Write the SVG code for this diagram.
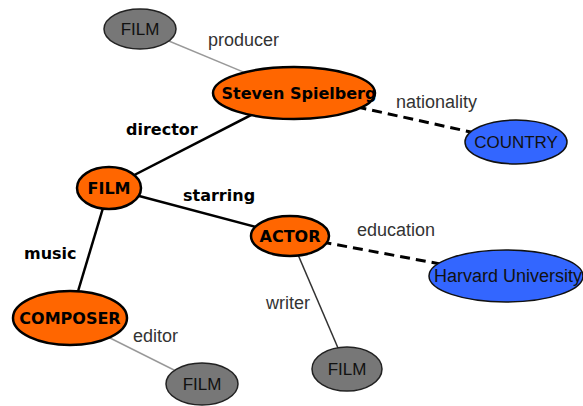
<svg xmlns="http://www.w3.org/2000/svg" width="583" height="406" viewBox="0 0 583 406">
<style>
.thick{stroke:#000;stroke-width:2.5;fill:none}
.dash{stroke:#000;stroke-width:3;stroke-dasharray:10,6;fill:none}
.thin{stroke:#999;stroke-width:1.5;fill:none}
.dark{stroke:#333;stroke-width:1.5;fill:none}
.orange{fill:#ff6600;stroke:#000;stroke-width:2.5}
.blue{fill:#3366ff;stroke:#111;stroke-width:1.5}
.gray{fill:#777;stroke:#222;stroke-width:1.5}
.nb{font-family:"DejaVu Sans",sans-serif;font-weight:bold;font-size:16px;fill:#000;text-anchor:middle}
.nn{font-family:"Liberation Sans",Arial,sans-serif;font-size:17px;fill:#111;text-anchor:middle}
.lb{font-family:"DejaVu Sans",sans-serif;font-weight:bold;font-size:16px;fill:#000}
.ln{font-family:"Liberation Sans",Arial,sans-serif;font-size:18px;fill:#333}
</style>
<g id="connectors">
<line class="thin" x1="140" y1="29" x2="294" y2="93"/>
<line class="dash" x1="294" y1="93" x2="516" y2="142"/>
<line class="thick" x1="109" y1="188" x2="294" y2="93"/>
<line class="thick" x1="109" y1="188" x2="290" y2="236"/>
<line class="thick" x1="109" y1="188" x2="70" y2="318"/>
<line class="dash" x1="290" y1="236" x2="505" y2="276"/>
<line class="dark" x1="290" y1="236" x2="347" y2="369"/>
<line class="thin" x1="70" y1="318" x2="202" y2="384"/>
<text class="ln" x="208" y="46">producer</text>
<text class="ln" x="396" y="108">nationality</text>
<text class="lb" x="126" y="135">director</text>
<text class="lb" x="183" y="201">starring</text>
<text class="ln" x="357" y="236">education</text>
<text class="lb" x="24" y="259">music</text>
<text class="ln" x="266" y="309">writer</text>
<text class="ln" x="133" y="342">editor</text>
</g>
<g id="film-top"><ellipse class="gray" cx="140" cy="29" rx="36" ry="20"/><text class="nn" x="140" y="35">FILM</text></g>
<g id="spielberg"><ellipse class="orange" cx="294" cy="93" rx="81" ry="26"/><text class="nb" x="299" y="99" textLength="155" lengthAdjust="spacingAndGlyphs">Steven Spielberg</text></g>
<g id="country"><ellipse class="blue" cx="516" cy="142" rx="51" ry="22"/><text class="nn" x="516" y="148">COUNTRY</text></g>
<g id="film-mid"><ellipse class="orange" cx="109" cy="188" rx="32" ry="21"/><text class="nb" x="109" y="194">FILM</text></g>
<g id="actor"><ellipse class="orange" cx="290" cy="236" rx="39" ry="20"/><text class="nb" x="290" y="242">ACTOR</text></g>
<g id="harvard"><ellipse class="blue" cx="506" cy="276" rx="77" ry="26"/><text class="nn" x="508" y="282" style="font-size:18px">Harvard University</text></g>
<g id="composer"><ellipse class="orange" cx="70" cy="318" rx="57" ry="27"/><text class="nb" x="70" y="324">COMPOSER</text></g>
<g id="film-editor"><ellipse class="gray" cx="202" cy="384" rx="36" ry="21"/><text class="nn" x="202" y="390">FILM</text></g>
<g id="film-writer"><ellipse class="gray" cx="347" cy="369" rx="35" ry="22"/><text class="nn" x="347" y="375">FILM</text></g>
</svg>
